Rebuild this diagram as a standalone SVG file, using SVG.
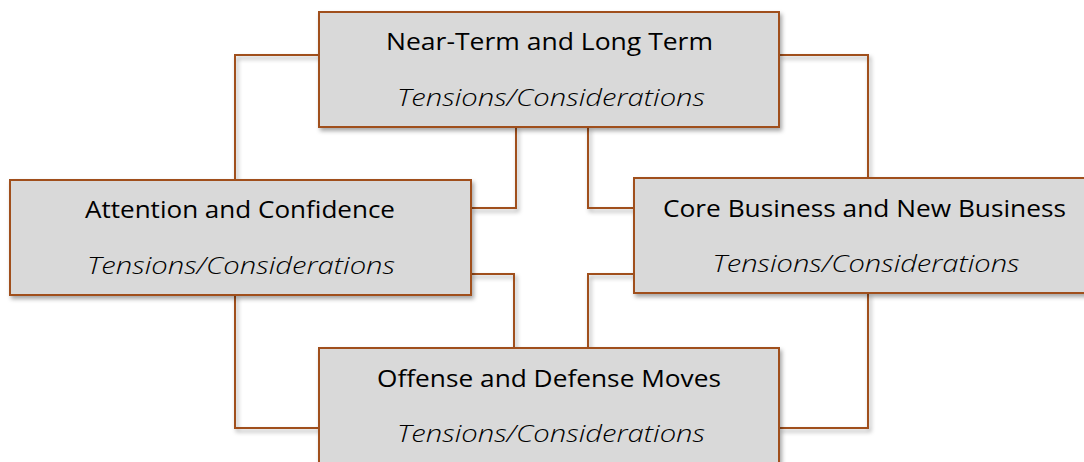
<svg xmlns="http://www.w3.org/2000/svg" width="1084" height="462" viewBox="0 0 1084 462">
  <defs>
    <filter id="shadow" x="-10%" y="-10%" width="130%" height="140%">
      <feDropShadow dx="2" dy="3" stdDeviation="2" flood-color="#000" flood-opacity="0.35"/>
    </filter>
    <style>
      .box { fill: #D9D9D9; stroke: #A0501C; stroke-width: 2; filter: url(#shadow); }
      .conn { fill: none; stroke: #A0501C; stroke-width: 2; stroke-linejoin: miter; filter: url(#shadow); }
      .title { font-family: "Open Sans", "Liberation Sans", sans-serif; font-size: 24px; fill: #000; text-anchor: middle; }
      .sub { font-family: "Open Sans", "Liberation Sans", sans-serif; font-size: 24px; font-style: italic; font-weight: 300; fill: #000; text-anchor: middle; }
    </style>
  </defs>
  <rect width="1084" height="462" fill="#FFFFFF"/>

  <g id="connectors">
    <polyline class="conn" points="319,55 235,55 235,180"/>
    <polyline class="conn" points="779,55 868,55 868,178"/>
    <polyline class="conn" points="235,295 235,428 319,428"/>
    <polyline class="conn" points="868,293 868,428 779,428"/>
    <polyline class="conn" points="516,127 516,208 471,208"/>
    <polyline class="conn" points="588,127 588,208 634,208"/>
    <polyline class="conn" points="471,274 514,274 514,348"/>
    <polyline class="conn" points="634,274 588,274 588,348"/>
  </g>

  <g id="node-top">
    <rect class="box" x="319" y="12" width="460" height="115"/>
    <text class="title" x="549.5" y="50" textLength="327" lengthAdjust="spacingAndGlyphs">Near-Term and Long Term</text>
    <text class="sub" x="551" y="106" textLength="308" lengthAdjust="spacingAndGlyphs">Tensions/Considerations</text>
  </g>

  <g id="node-left">
    <rect class="box" x="10" y="180" width="461" height="115"/>
    <text class="title" x="240" y="218" textLength="310" lengthAdjust="spacingAndGlyphs">Attention and Confidence</text>
    <text class="sub" x="241" y="274" textLength="308" lengthAdjust="spacingAndGlyphs">Tensions/Considerations</text>
  </g>

  <g id="node-right">
    <rect class="box" x="634" y="178" width="460" height="115"/>
    <text class="title" x="864.5" y="217" textLength="403" lengthAdjust="spacingAndGlyphs">Core Business and New Business</text>
    <text class="sub" x="866" y="272" textLength="307" lengthAdjust="spacingAndGlyphs">Tensions/Considerations</text>
  </g>

  <g id="node-bottom">
    <rect class="box" x="319" y="348" width="460" height="115"/>
    <text class="title" x="549" y="387" textLength="344" lengthAdjust="spacingAndGlyphs">Offense and Defense Moves</text>
    <text class="sub" x="551" y="442" textLength="308" lengthAdjust="spacingAndGlyphs">Tensions/Considerations</text>
  </g>
</svg>
